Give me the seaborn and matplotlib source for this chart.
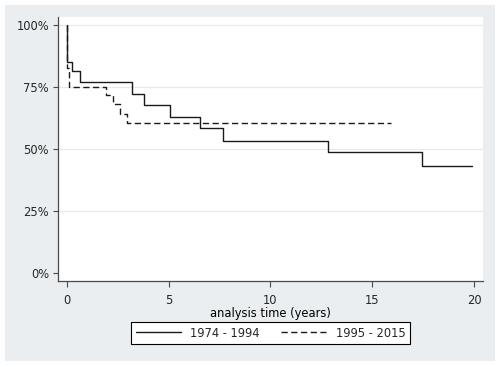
import numpy as np
import pandas as pd
import matplotlib
matplotlib.use('Agg')
import matplotlib.pyplot as plt
from matplotlib.patches import Rectangle
import seaborn as sns

# Kaplan-Meier estimates
periods = ['1974 - 1994', '1995 - 2015']
times_early = [0, 0.01, 0.23, 0.64, 3.2, 3.8, 5.05, 6.52, 7.66, 12.84, 17.46, 19.9]
surv_early = [1.0, 0.853, 0.814, 0.770, 0.724, 0.679, 0.632, 0.586, 0.535, 0.488, 0.432, 0.432]
times_late = [0, 0.01, 0.12, 1.92, 2.28, 2.62, 2.95, 15.9]
surv_late = [1.0, 0.827, 0.753, 0.718, 0.682, 0.643, 0.607, 0.607]
y_ticks = [0, 0.25, 0.5, 0.75, 1.0]
y_tick_labels = ['0%', '25%', '50%', '75%', '100%']
x_ticks = [0, 5, 10, 15, 20]

df = pd.concat([
    pd.DataFrame({'time': times_early, 'surv': surv_early, 'period': periods[0]}),
    pd.DataFrame({'time': times_late, 'surv': surv_late, 'period': periods[1]}),
], ignore_index=True)

sns.set_theme(style='white')
plt.rcParams['font.family'] = ['DejaVu Sans']
fs = 8.3
line_col = '#1a1a1a'
axis_col = '#4a4a4a'

fig = plt.figure(figsize=(5, 3.67), dpi=100)
fig.patch.set_facecolor('white')
fig.add_artist(Rectangle((0.01, 0.0163), 0.98, 0.9701, transform=fig.transFigure,
                         facecolor='#eaeef0', edgecolor='none', zorder=-1))
ax = fig.add_axes([0.116, 0.2343, 0.85, 0.7194])
ax.set_facecolor('white')

# horizontal grid lines like Stata
for yv in y_ticks[1:]:
    ax.axhline(yv, color='#e6eaec', linewidth=0.9, zorder=0)

sns.lineplot(data=df, x='time', y='surv', style='period', style_order=periods,
             dashes={periods[0]: '', periods[1]: (4.5, 2.5)},
             color=line_col, estimator=None, drawstyle='steps-post',
             linewidth=1.0, ax=ax)

ax.set_xlim(-0.44, 20.44)
ax.set_ylim(-0.032, 1.034)
ax.set_yticks(y_ticks)
ax.set_yticklabels(y_tick_labels)
ax.set_xticks(x_ticks)
ax.tick_params(axis='y', direction='out', length=3.5, width=0.8, color=axis_col,
               labelsize=fs, pad=3, left=True)
ax.tick_params(axis='x', direction='out', length=4, width=0.8, color=axis_col,
               labelsize=fs, pad=5, bottom=True)
for s in ['top', 'right']:
    ax.spines[s].set_visible(False)
for s in ['left', 'bottom']:
    ax.spines[s].set_color(axis_col)
    ax.spines[s].set_linewidth(0.9)
ax.set_ylabel('')
ax.set_xlabel('analysis time (years)', fontsize=fs, labelpad=0.5, color='black')

handles, labels = ax.get_legend_handles_labels()
ax.get_legend().remove()
leg = fig.legend(handles, labels, loc='center', bbox_to_anchor=(0.541, 0.0926), ncol=2,
                 frameon=True, fancybox=False, edgecolor='black', framealpha=1,
                 handlelength=3.9, handletextpad=0.8, columnspacing=1.9,
                 borderpad=0.4, fontsize=fs)
leg.get_frame().set_linewidth(0.8)

fig.savefig('out.png', dpi=100)
